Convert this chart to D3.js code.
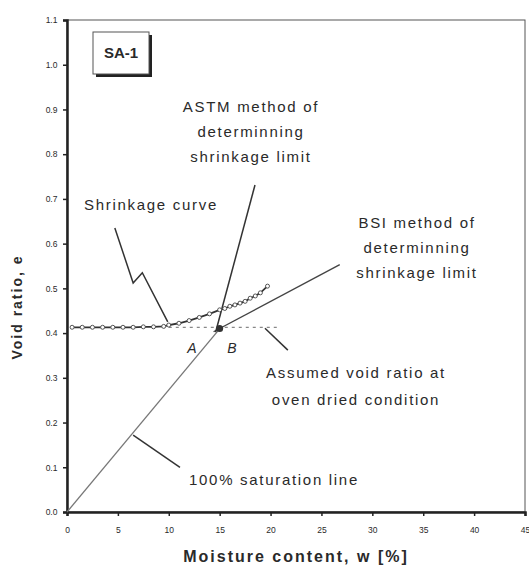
<!DOCTYPE html>
<html><head><meta charset="utf-8">
<script src="https://cdn.jsdelivr.net/npm/d3@7"></script>
<style>
body{margin:0;background:#fff;}
text{font-family:"Liberation Sans",Arial,sans-serif;fill:#2a2a2a;}
</style></head>
<body><svg id="chart" width="529" height="567"></svg>
<script>
// ---- data ----
const xTicks = [0,5,10,15,20,25,30,35,40,45];
const yTicks = [0.0,0.1,0.2,0.3,0.4,0.5,0.6,0.7,0.8,0.9,1.0,1.1];
const shrinkW = [0.5,1.5,2.5,3.5,4.5,5.5,6.5,7.5,8.5,9.5,10,11,12,13,14,15,15.5,16,16.5,17,17.5,18,18.5,19,19.7];
const shrinkE = [0.413,0.413,0.413,0.413,0.413,0.413,0.413,0.414,0.414,0.415,0.418,0.422,0.428,0.435,0.443,0.452,0.455,0.46,0.463,0.467,0.471,0.478,0.483,0.49,0.505];
const saturationW = [0, 15.2];
const saturationE = [0, 0.415];
const ovenDryW = [10, 21];
const ovenDryE = [0.413, 0.413];
const bsiW = [14.4, 26.8];
const bsiE = [0.403, 0.553];
const astmW = [18.47, 14.6];
const astmE = [0.731, 0.402];
const shrinkLeaderW = [4.7, 6.5, 7.4, 9.9];
const shrinkLeaderE = [0.635, 0.512, 0.535, 0.425];
const satLeaderW = [6.5, 11.1];
const satLeaderE = [0.172, 0.10];
const dryLeaderW = [19.45, 21.7];
const dryLeaderE = [0.411, 0.362];
const title = "SA-1";
const xLabel = "Moisture content, w [%]";
const yLabel = "Void ratio, e";

// ---- layout ----
const W = 529, H = 567;
const m = {l:67, t:20, r:4, b:55};
const svg = d3.select("#chart");
const x = d3.scaleLinear().domain([0,45]).range([m.l, W-m.r]);
const y = d3.scaleLinear().domain([0,1.1]).range([H-m.b, m.t]);
const pts = (ws, es) => ws.map((w,i)=>[w, es[i]]);
const line = d3.line().x(d=>x(d[0])).y(d=>y(d[1]));

// frame
svg.append("rect").attr("x",x(0)).attr("y",y(1.1)).attr("width",x(45)-x(0)).attr("height",y(0)-y(1.1))
  .attr("fill","none").attr("stroke","#555").attr("stroke-width",1);

// axes
const xAxis = svg.append("g").attr("transform",`translate(0,${y(0)})`)
  .call(d3.axisBottom(x).tickValues(xTicks).tickSize(4).tickFormat(d3.format("d")));
const yAxis = svg.append("g").attr("transform",`translate(${x(0)},0)`)
  .call(d3.axisLeft(y).tickValues(yTicks).tickSize(4).tickFormat(d3.format(".1f")));
[xAxis,yAxis].forEach(g=>{
  g.select(".domain").attr("stroke","#222").attr("stroke-width",2.5);
  g.selectAll(".tick line").attr("stroke","#222").attr("stroke-width",1.5);
  g.selectAll(".tick text").attr("font-size",8.5).attr("fill","#444").attr("font-family","Liberation Sans, Arial, sans-serif");
});
xAxis.selectAll(".tick text").attr("dy","1.6em");
yAxis.selectAll(".tick text").attr("dx","-0.3em");

// saturation line
svg.append("path").attr("d",line(pts(saturationW,saturationE))).attr("fill","none").attr("stroke","#777").attr("stroke-width",1.3);
// oven dry dashed line
svg.append("path").attr("d",line(pts(ovenDryW,ovenDryE))).attr("fill","none").attr("stroke","#888").attr("stroke-width",1.2).attr("stroke-dasharray","3,4");
// BSI line
svg.append("path").attr("d",line(pts(bsiW,bsiE))).attr("fill","none").attr("stroke","#444").attr("stroke-width",1.4);
// ASTM line
svg.append("path").attr("d",line(pts(astmW,astmE))).attr("fill","none").attr("stroke","#333").attr("stroke-width",1.5);
// shrinkage curve
const sc = pts(shrinkW,shrinkE);
svg.append("path").attr("d",line(sc)).attr("fill","none").attr("stroke","#333").attr("stroke-width",1.8);
svg.selectAll("circle.m").data(sc).enter().append("circle").attr("class","m")
  .attr("cx",d=>x(d[0])).attr("cy",d=>y(d[1])).attr("r",2).attr("fill","#fff").attr("stroke","#444").attr("stroke-width",0.9);
// intersection blob
svg.append("circle").attr("cx",x(15)).attr("cy",y(0.41)).attr("r",3.5).attr("fill","#333");

// leaders
[[shrinkLeaderW,shrinkLeaderE],[satLeaderW,satLeaderE],[dryLeaderW,dryLeaderE]].forEach(([ws,es])=>{
  svg.append("path").attr("d",line(pts(ws,es))).attr("fill","none").attr("stroke","#333").attr("stroke-width",1.5);
});

// title box
const bx=93, by=32, bw=56, bh=42;
svg.append("rect").attr("x",bx+3).attr("y",by+3).attr("width",bw).attr("height",bh).attr("fill","#222");
svg.append("rect").attr("x",bx).attr("y",by).attr("width",bw).attr("height",bh).attr("fill","#fff").attr("stroke","#555").attr("stroke-width",1);
svg.append("text").attr("x",bx+bw/2).attr("y",by+bh/2+5).attr("text-anchor","middle").attr("font-size",15).attr("font-weight","bold").text(title);

// annotations
function block(lines, cx, y0, dy, size){
  lines.forEach((t,i)=>svg.append("text").attr("x",cx).attr("y",y0+i*dy).attr("text-anchor","middle")
    .attr("font-size",size).attr("letter-spacing","1.7px").text(t));
}
block(["ASTM method of","determinning","shrinkage limit"], 251, 112, 25, 15);
block(["BSI method of","determinning","shrinkage limit"], 417, 228, 25, 15);
block(["Shrinkage curve"], 151, 210, 0, 15);
block(["Assumed void ratio  at","oven dried condition"], 356, 378, 27, 15);
block(["100% saturation line"], 274, 485, 0, 15);
svg.append("text").attr("x",192).attr("y",353).attr("text-anchor","middle").attr("font-size",14).attr("font-style","italic").text("A");
svg.append("text").attr("x",232).attr("y",353).attr("text-anchor","middle").attr("font-size",14).attr("font-style","italic").text("B");

// axis titles
svg.append("text").attr("x",(x(0)+x(45))/2).attr("y",562).attr("text-anchor","middle").attr("font-size",16)
  .attr("font-weight","bold").attr("letter-spacing","2px").text(xLabel);
svg.append("text").attr("transform",`translate(22,${(y(0)+y(1.1))/2+41}) rotate(-90)`).attr("text-anchor","middle")
  .attr("font-size",14).attr("font-weight","bold").attr("letter-spacing","2px").text(yLabel);
</script></body></html>
